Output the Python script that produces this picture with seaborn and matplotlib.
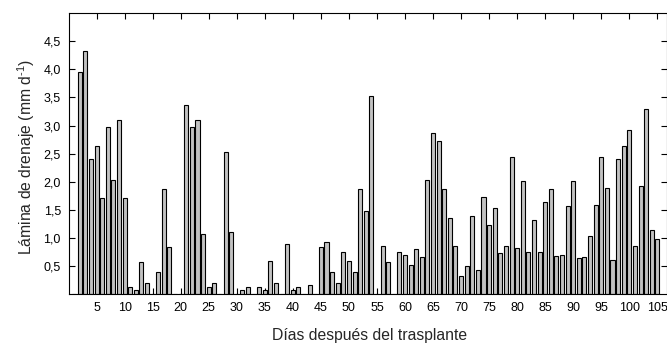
import matplotlib
matplotlib.use("Agg")
import matplotlib.pyplot as plt
import seaborn as sns
import numpy as np

days = list(range(1, 106))
drenaje = [0, 3.95, 4.33, 2.41, 2.63, 1.70, 2.98, 2.02, 3.10, 1.71,
           0.13, 0.06, 0.57, 0.19, 0, 0.38, 1.86, 0.83, 0, 0,
           3.37, 2.97, 3.10, 1.07, 0.13, 0.19, 0, 2.53, 1.11, 0,
           0.07, 0.13, 0, 0.13, 0.07, 0.58, 0.19, 0, 0.88, 0.07,
           0.13, 0, 0.15, 0, 0.84, 0.92, 0.38, 0.19, 0.74, 0.59,
           0.38, 1.86, 1.47, 3.53, 0, 0.86, 0.56, 0, 0.74, 0.70,
           0.51, 0.79, 0.66, 2.02, 2.86, 2.73, 1.86, 1.35, 0.86, 0.32,
           0.49, 1.39, 0.42, 1.72, 1.23, 1.53, 0.72, 0.86, 2.44, 0.81,
           2.01, 0.74, 1.31, 0.75, 1.63, 1.86, 0.67, 0.70, 1.56, 2.01,
           0.64, 0.65, 1.03, 1.59, 2.44, 1.88, 0.61, 2.41, 2.63, 2.92,
           0.86, 1.93, 3.30, 1.14, 0.97]

xticks = list(range(5, 106, 5))
xticklabels = [str(v) for v in xticks]
yticks = [0.5, 1.0, 1.5, 2.0, 2.5, 3.0, 3.5, 4.0, 4.5]
yticklabels = ["0,5", "1,0", "1,5", "2,0", "2,5", "3,0", "3,5", "4,0", "4,5"]

sns.set_style("ticks")
plt.rcParams['font.family'] = ['Liberation Sans', 'DejaVu Sans']
plt.rcParams['mathtext.fontset'] = 'custom'
plt.rcParams['mathtext.rm'] = 'Liberation Sans'

fig = plt.figure(figsize=(6.67, 3.44), dpi=100)
ax = fig.add_axes([0.1027, 0.1459, 0.898, 0.8154])

sns.barplot(x=days, y=drenaje, native_scale=True, color="#c2c2c2",
            saturation=1, edgecolor="black", linewidth=0.8, width=0.72, ax=ax)

ax.set_xlim(0, 106.8)
ax.set_ylim(0, 5.0)
ax.set_xticks(xticks)
ax.set_xticklabels(xticklabels)
ax.set_yticks(yticks)
ax.set_yticklabels(yticklabels)
ax.tick_params(axis='both', direction='in', length=4, width=0.8,
               labelsize=9, colors='black')
ax.tick_params(axis='x', pad=6, top=True)
ax.tick_params(axis='y', pad=5.5, right=True)
for s in ax.spines.values():
    s.set_visible(True)
    s.set_linewidth(0.8)
    s.set_color('black')

ax.set_xlabel("Días después del trasplante", fontsize=11.3)
ax.xaxis.label.set_va('baseline')
ax.xaxis.set_label_coords(0.502, -0.163)
ax.set_ylabel(r"Lámina de drenaje (mm d$^{\text{-1}}$)", fontsize=11.3)
ax.yaxis.set_label_coords(-0.053, 0.489)

fig.savefig("out.png", dpi=100)
